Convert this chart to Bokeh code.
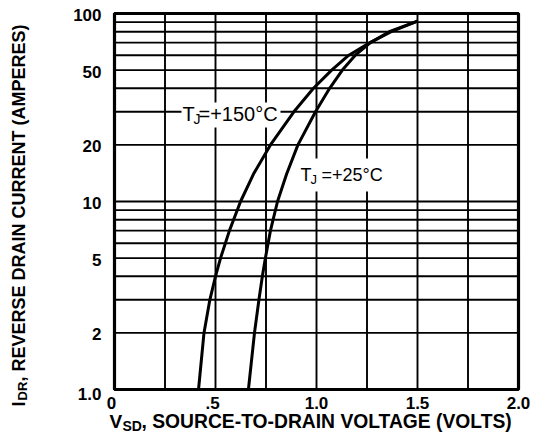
import math
from bokeh.plotting import figure
from bokeh.models import Label, Range1d
from bokeh.embed import file_html
from bokeh.resources import INLINE

# ---------------- data ----------------
x_grid = [0.0, 0.25, 0.5, 0.75, 1.0, 1.25, 1.5, 1.75, 2.0]
y_grid = [1, 2, 3, 4, 5, 6, 7, 8, 9, 10, 20, 30, 40, 50, 60, 70, 80, 90, 100]
x_ticks = [0.0, 0.5, 1.0, 1.5, 2.0]
x_tick_labels = ["0", ".5", "1.0", "1.5", "2.0"]
y_ticks = [1, 2, 5, 10, 20, 50, 100]
y_tick_labels = ["1.0", "2", "5", "10", "20", "50", "100"]

# T_J = +150 C
vsd_150 = [0.416, 0.443, 0.472, 0.50, 0.525, 0.569, 0.624, 0.688, 0.772, 0.888, 0.985, 1.075, 1.16, 1.265, 1.37, 1.5]
idr_150 = [1.0, 2, 3, 4, 5, 7, 10, 14, 20, 30, 40, 50, 60, 70, 80, 91]
# T_J = +25 C
vsd_25 = [0.663, 0.693, 0.715, 0.732, 0.747, 0.772, 0.807, 0.852, 0.908, 0.995, 1.065, 1.128, 1.192, 1.267, 1.36, 1.5]
idr_25 = [1.0, 2, 3, 4, 5, 7, 10, 14, 20, 30, 40, 50, 60, 70, 80, 91]

# ---------------- layout (canvas pixels) ----------------
W, H = 542, 439
FL, FT, FW, FH = 114, 13, 404, 376   # plotting box inside the canvas


def dx(px):
    return (px - FL) / FW * 2.0


def dy(py):
    return 10 ** (2.0 * (FT + FH - py) / FH)


def tick_py(v):
    return FT + FH * (1 - math.log10(v) / 2.0)


FONT = "Liberation Sans"

p = figure(width=W, height=H,
           x_range=Range1d(dx(0), dx(W)), y_range=Range1d(dy(H), dy(0)),
           y_axis_type="log",
           x_axis_location=None, y_axis_location=None,
           output_backend="svg", toolbar_location=None,
           min_border_left=0, min_border_right=0,
           min_border_top=0, min_border_bottom=0)
p.background_fill_color = "white"
p.border_fill_color = "white"
p.outline_line_color = None
p.grid.visible = False

x0, x1 = x_grid[0], x_grid[-1]
y0, y1 = y_grid[0], y_grid[-1]

# grid
p.segment(x0=x_grid, y0=[y0] * len(x_grid), x1=x_grid, y1=[y1] * len(x_grid),
          line_color="black", line_width=1.9)
p.segment(x0=[x0] * len(y_grid), y0=y_grid, x1=[x1] * len(y_grid), y1=y_grid,
          line_color="black", line_width=1.9)

# white backgrounds behind curve labels
box_l = [dx(181), dx(297)]
box_r = [dx(280), dx(386)]
box_t = [dy(102), dy(158)]
box_b = [dy(127), dy(191)]
p.quad(left=box_l, right=box_r, top=box_t, bottom=box_b,
       fill_color="white", line_color=None)

# frame
p.quad(left=[x0], right=[x1], bottom=[y0], top=[y1], fill_color=None,
       line_color="black", line_width=3.2)

# curves
p.line(vsd_150, idr_150, line_color="black", line_width=3, line_join="round")
p.line(vsd_25, idr_25, line_color="black", line_width=3, line_join="round")


def lab(px, py, text, size, align="left", style="normal", angle=0.0):
    p.add_layout(Label(x=dx(px), y=dy(py), text=text, text_font=FONT,
                       text_font_size=f"{size}px", text_font_style=style,
                       text_align=align, text_baseline="middle",
                       text_color="black", angle=angle))


# tick labels
x_shift = {"0": -3, ".5": -3}
for v, t in zip(x_ticks, x_tick_labels):
    px = FL + v / 2.0 * FW + x_shift.get(t, 0)
    lab(px, 402, t, 17, align="center", style="bold")
for v, t in zip(y_ticks, y_tick_labels):
    py = tick_py(v) + (4 if t == "1.0" else 1.5)
    lab(101, py, t, 17, align="right", style="bold")

# curve labels
lab(182, 113, "T", 20)
lab(193, 118, "J", 14)
lab(198, 113, "=+150°C", 20)

lab(300, 174, "T", 18)
lab(310, 179, "J", 13)
lab(321, 174, "=+25°C", 18)

# x axis title
lab(109, 421, "V", 19, style="bold")
lab(122, 425, "SD", 14, style="bold")
lab(141, 421, ", SOURCE-TO-DRAIN VOLTAGE (VOLTS)", 19.3, style="bold")

# y axis title (rotated)
ang = math.pi / 2
lab(18, 406, "I", 18, style="bold", angle=ang)
lab(22, 400, "DR", 13, style="bold", angle=ang)
lab(18, 381, ", REVERSE DRAIN CURRENT (AMPERES)", 18, style="bold", angle=ang)

open("out.html", "w").write(file_html(p, INLINE))
